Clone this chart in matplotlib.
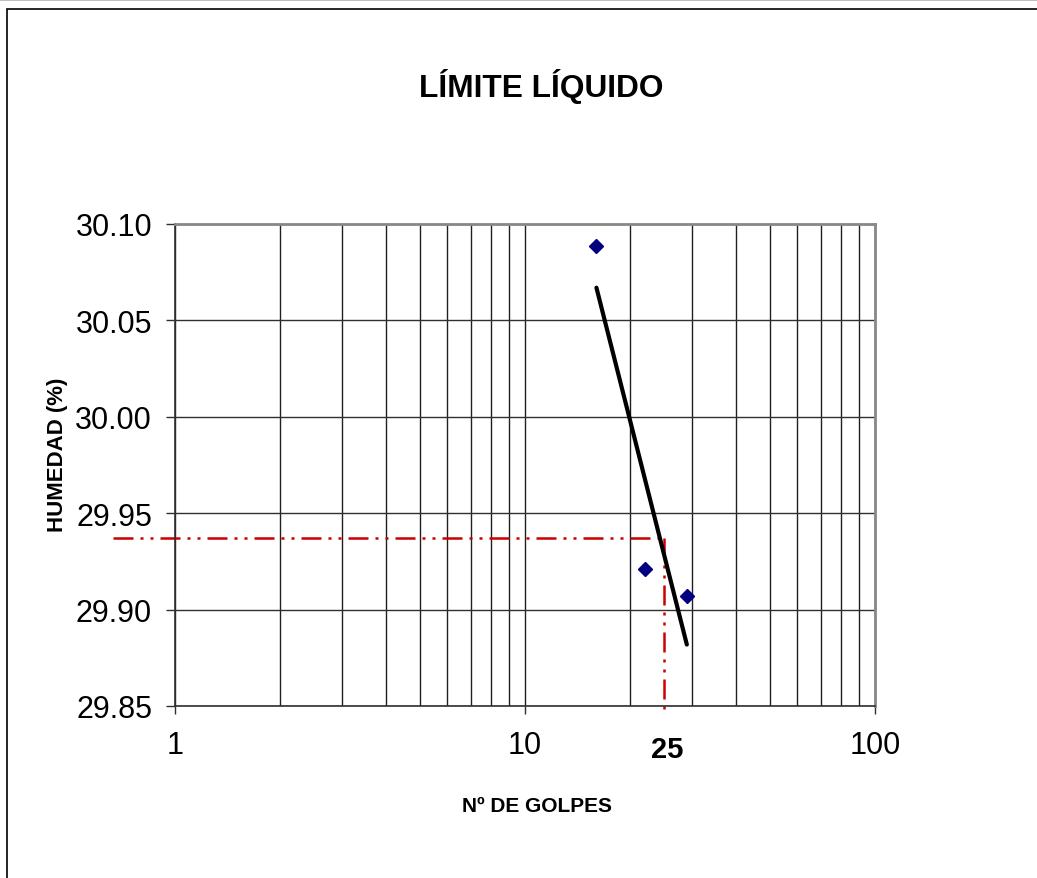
import numpy as np
import matplotlib
matplotlib.use("Agg")
import matplotlib.pyplot as plt
from matplotlib.patches import Rectangle
from matplotlib.lines import Line2D
from matplotlib.ticker import FixedLocator, LogLocator, NullFormatter

# Liquid-limit test results
golpes = [16, 22, 29]                      # number of blows
humedad = [30.0886, 29.9213, 29.9068]      # moisture content (%)
golpes_ref = 25                            # reference blow count
limite_liquido = 29.937                    # liquid limit read at 25 blows

y_ticks = [29.85, 29.90, 29.95, 30.00, 30.05, 30.10]
x_ticks = [1, 10, 100]
x_tick_labels = ["1", "10", "100"]

title = "LÍMITE LÍQUIDO"
xlabel = "Nº DE GOLPES"
ylabel = "HUMEDAD (%)"

plt.rcParams["font.family"] = ["Liberation Sans", "DejaVu Sans"]

W, H = 1037, 879
fig = plt.figure(figsize=(W / 100, H / 100), dpi=100)
fig.patch.set_facecolor("white")

# outer chart-area border
fig.add_artist(Rectangle((7 / W, -0.05), 1.2, 1 - 10 / H + 0.05,
                         transform=fig.transFigure, fill=False,
                         edgecolor="black", linewidth=1.2))
fig.add_artist(Line2D([0, 1], [1 - 0.6 / H, 1 - 0.6 / H],
                      transform=fig.transFigure, color="#b0b0b0", linewidth=1.2))

ax = fig.add_axes([175 / W, (H - 707) / H, 700 / W, 482 / H])
ax.set_xscale("log")
ax.set_xlim(1, 100)
ax.set_ylim(y_ticks[0], y_ticks[-1])

# grid
ax.xaxis.set_major_locator(FixedLocator(x_ticks))
ax.xaxis.set_minor_locator(LogLocator(base=10, subs=np.arange(2, 10)))
ax.xaxis.set_minor_formatter(NullFormatter())
ax.set_xticklabels(x_tick_labels)
ax.set_yticks(y_ticks)
ax.set_yticklabels([f"{v:.2f}" for v in y_ticks])
ax.grid(True, which="both", axis="x", color="#202020", linewidth=1.0)
ax.grid(True, which="major", axis="y", color="#303030", linewidth=1.0)
ax.set_axisbelow(True)

ax.tick_params(axis="x", which="major", direction="out", length=6,
               width=1.0, color="#303030", labelsize=22, pad=11)
ax.tick_params(axis="x", which="minor", length=0)
ax.tick_params(axis="y", which="major", direction="out", length=6.5,
               width=1.0, color="#303030", labelsize=22, pad=10)

for side in ("left", "bottom"):
    ax.spines[side].set_color("#303030")
    ax.spines[side].set_linewidth(1.2)
for side in ("top", "right"):
    ax.spines[side].set_color("#888888")
    ax.spines[side].set_linewidth(2.0)

# measured points
ax.plot(golpes, humedad, linestyle="none", marker="D", markersize=7.5,
        color="#000080", zorder=4)

# logarithmic trend line over the measured range
coef = np.polyfit(np.log10(golpes), humedad, 1)
xt = np.array([min(golpes), max(golpes)], dtype=float)
ax.plot(xt, np.polyval(coef, np.log10(xt)), color="black", linewidth=3.0,
        solid_capstyle="round", zorder=3)

# guide lines at the reference blow count
x_lo, x_hi = ax.get_xlim()
y_lo, y_hi = ax.get_ylim()
x_start = x_lo * (x_hi / x_lo) ** (-62 / 700)
y_end = y_lo - (y_hi - y_lo) * (8 / 482)
dash = (0, (8.0, 2.8, 1.2, 2.8, 1.2, 2.8))
ax.plot([x_start, golpes_ref], [limite_liquido, limite_liquido],
        color="#cc0000", linewidth=1.8, linestyle=dash, clip_on=False, zorder=2)
ax.plot([golpes_ref, golpes_ref], [limite_liquido, y_end],
        color="#cc0000", linewidth=1.8, linestyle=dash, clip_on=False, zorder=2)

ax.annotate(str(golpes_ref), xy=(golpes_ref, y_lo), xytext=(3, -43),
            textcoords="offset pixels", ha="center", va="center",
            fontsize=21, fontweight="bold", annotation_clip=False)

fig.text(541 / W, 1 - 87 / H, title, ha="center", va="center",
         fontsize=22.8, fontweight="bold")
fig.text(537 / W, 1 - 807 / H, xlabel, ha="center", va="center",
         fontsize=15, fontweight="bold")
fig.text(57 / W, 1 - 455 / H, ylabel, ha="center", va="center",
         rotation=90, fontsize=16, fontweight="bold")

fig.savefig("out.png", dpi=100, facecolor="white")
